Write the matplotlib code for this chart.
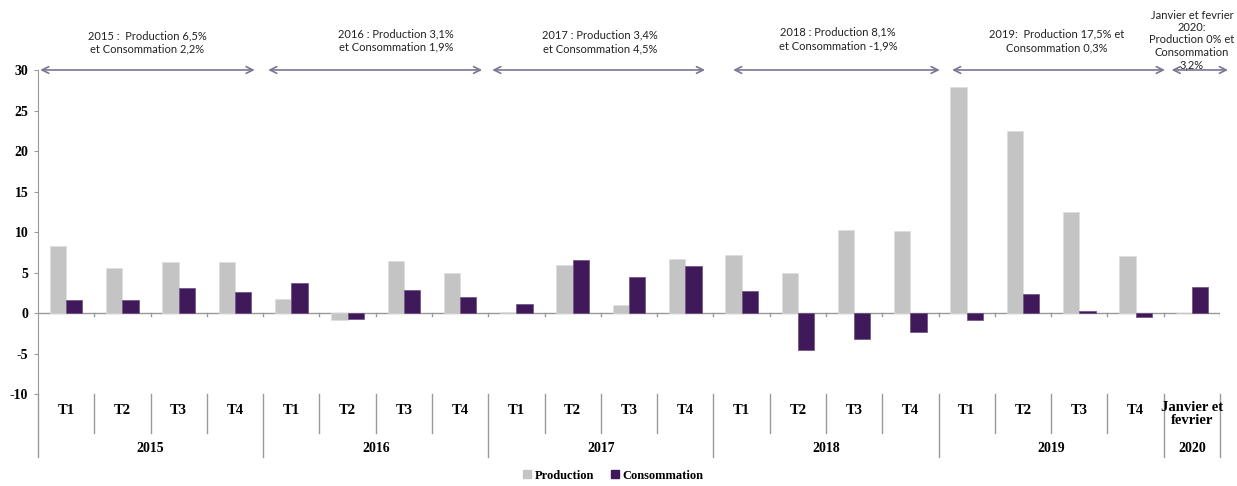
import numpy as np
import matplotlib
matplotlib.use("Agg")
import matplotlib.pyplot as plt
import matplotlib.transforms as mtransforms
from matplotlib.patches import Patch

# -- Data ----------------------------------------------------------------------
quarters = ["T1", "T2", "T3", "T4"] * 5 + ["Janvier et\nfevrier"]
years = ["2015", "2016", "2017", "2018", "2019", "2020"]
year_sizes = [4, 4, 4, 4, 4, 1]

production = [8.3, 5.6, 6.3, 6.3,
              1.7, -0.9, 6.4, 5.0,
              0.1, 5.9, 1.0, 6.7,
              7.2, 4.9, 10.3, 10.1,
              27.9, 22.5, 12.5, 7.1,
              0.0]
consommation = [1.6, 1.6, 3.1, 2.6,
                3.7, -0.7, 2.8, 2.0,
                1.1, 6.5, 4.5, 5.8,
                2.7, -4.5, -3.2, -2.3,
                -0.8, 2.4, 0.3, -0.5,
                3.2]

notes = ["2015 :  Production 6,5%\net Consommation 2,2%",
         "2016 : Production 3,1%\net Consommation 1,9%",
         "2017 : Production 3,4%\net Consommation 4,5%",
         "2018 : Production 8,1%\net Consommation -1,9%",
         "2019:  Production 17,5% et\nConsommation 0,3%",
         "Janvier et fevrier\n2020:\nProduction 0% et\nConsommation\n3,2%"]

# -- Style -----------------------------------------------------------------------
C_PROD = "#c4c4c4"
C_CONS = "#40195a"
C_AXIS = "#999999"
C_ARROW = "#7b7595"
SERIF = "Liberation Serif"
SANS = "Lato"

fig = plt.figure(figsize=(12.37, 4.86), dpi=100)
ax = fig.add_axes([0.0307, 0.189, 0.9556, 0.667])

x = np.arange(len(quarters))
w = 0.29
ax.bar(x - w / 2, production, w, color=C_PROD, edgecolor="#dddddd", linewidth=0.5,
       label="Production", zorder=2)
ax.bar(x + w / 2, consommation, w, color=C_CONS, edgecolor="#6a5080", linewidth=0.5,
       label="Consommation", zorder=2)

ax.set_xlim(-0.5, len(quarters) - 0.5)
ax.set_ylim(-10, 30)
ax.set_yticks(np.arange(-10, 31, 5))
ax.set_yticklabels([str(v) for v in range(-10, 31, 5)],
                   fontfamily=SERIF, fontweight="bold", fontsize=10)
ax.tick_params(axis="y", length=3, color=C_AXIS, pad=4)
ax.set_xticks([])
for s in ["top", "right", "bottom"]:
    ax.spines[s].set_visible(False)
ax.spines["left"].set_color(C_AXIS)

# zero line with small ticks at category boundaries
ax.axhline(0, color=C_AXIS, linewidth=1, zorder=1)
bounds = np.arange(len(quarters) + 1) - 0.5
for b in bounds[1:]:
    ax.plot([b, b], [0, -0.4], color=C_AXIS, linewidth=1, zorder=1)

# category axis below the plot
tr = mtransforms.blended_transform_factory(ax.transData, ax.transAxes)
year_edges = np.cumsum([0] + year_sizes) - 0.5
for b in bounds:
    bottom = -0.194 if np.any(np.isclose(year_edges, b)) else -0.120
    ax.plot([b, b], [0, bottom], color=C_AXIS, linewidth=1,
            transform=tr, clip_on=False)
for i, q in enumerate(quarters):
    yq = -0.06 if "\n" in q else -0.049
    ax.text(i, yq, q, transform=tr, ha="center", va="center",
            fontfamily=SERIF, fontweight="bold", fontsize=10.5,
            linespacing=1.0)
for k, yr in enumerate(years):
    mid = (year_edges[k] + year_edges[k + 1]) / 2
    ax.text(mid, -0.167, yr, transform=tr, ha="center", va="center",
            fontfamily=SERIF, fontweight="bold", fontsize=10)

# period arrows and annotations
arrow_spans = [(-0.46, 3.35), (3.59, 7.39), (7.57, 11.35),
               (11.85, 15.52), (15.74, 19.52), (19.64, 20.64)]
note_x = [1.44, 5.86, 9.48, 13.71, 17.60, 20.0]
note_y = [33.4, 33.64, 33.46, 33.83, 33.58, 33.7]
for (x0, x1), nx, ny, txt in zip(arrow_spans, note_x, note_y, notes):
    ax.annotate("", xy=(x1, 30), xytext=(x0, 30),
                arrowprops=dict(arrowstyle="<->", color=C_ARROW, lw=1.2,
                                shrinkA=0, shrinkB=0, mutation_scale=12),
                annotation_clip=False)
    last = txt.startswith("Janvier")
    ax.text(nx, ny, txt, ha="center", va="center", fontfamily=SANS,
            fontsize=8, linespacing=1.15 if last else 1.3,
            clip_on=False, color="#222222")

handles = [Patch(color=C_PROD, label="Production"),
           Patch(color=C_CONS, label="Consommation")]
fig.legend(handles=handles, loc="center", bbox_to_anchor=(0.496, 0.021),
           ncol=2, frameon=False, handlelength=0.6, handleheight=0.6,
           columnspacing=1.4, handletextpad=0.3,
           prop=dict(family=SERIF, weight="bold", size=9))

fig.savefig("out.png", dpi=100)
